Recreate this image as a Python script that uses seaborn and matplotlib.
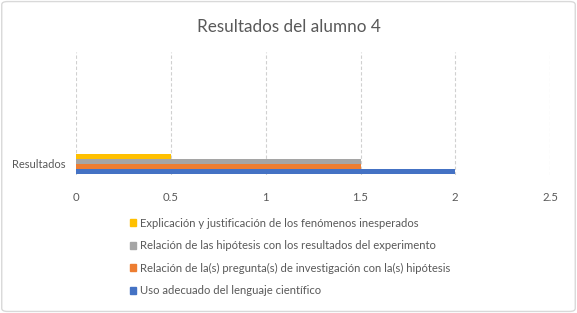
import pandas as pd
import matplotlib
matplotlib.use('Agg')
import matplotlib.pyplot as plt
import matplotlib.patches as mpatches
import seaborn as sns

# Chart data
category = 'Resultados'
series = ['Explicación y justificación de los fenómenos inesperados',
          'Relación de las hipótesis con los resultados del experimento',
          'Relación de la(s) pregunta(s) de investigación con la(s) hipótesis',
          'Uso adecuado del lenguaje científico']
values = [0.5, 1.5, 1.5, 2]
colors = ['#FFC000', '#A5A5A5', '#ED7D31', '#4472C4']
x_ticks = [0, 0.5, 1, 1.5, 2, 2.5]
x_tick_labels = ['0', '0.5', '1', '1.5', '2', '2.5']

df = pd.DataFrame({'categoria': [category] * len(series), 'serie': series, 'valor': values})

sns.set_style('white')
plt.rcParams['font.family'] = ['Lato', 'DejaVu Sans']

fig = plt.figure(figsize=(5.77, 3.13), dpi=100)
ax = fig.add_axes([0.1322, 0.441, 0.821, 0.393])

sns.barplot(data=df, x='valor', y='categoria', hue='serie', hue_order=series,
            palette=colors, orient='h', width=0.8, saturation=1, linewidth=0,
            ax=ax, legend=False)

ax.set_xlim(0, 2.5)
ax.set_ylim(0.44, -4.48)
ax.set_xticks(x_ticks)
ax.set_xticklabels(x_tick_labels)
ax.set_xlabel('')
ax.set_ylabel('')
ax.tick_params(axis='both', length=0, labelsize=8.2, labelcolor='#595959', pad=12)
ax.tick_params(axis='y', labelsize=8, pad=8)
ax.grid(axis='x', color='#D0D0D0', linestyle=(0, (3, 2)), linewidth=0.8)
ax.set_axisbelow(True)
for s in ax.spines.values():
    s.set_visible(False)

fig.text(0.5, 0.913, 'Resultados del alumno 4', ha='center', va='center',
         fontsize=12.3, color='#595959')

handles = [mpatches.Patch(color=c, label=s) for c, s in zip(colors, series)]
leg = fig.legend(handles=handles, loc='upper left', bbox_to_anchor=(0.215, 0.322),
                 frameon=False, fontsize=8.1, handlelength=0.55, handleheight=0.55,
                 handletextpad=0.4, labelspacing=1.02, borderpad=0)
for t in leg.get_texts():
    t.set_color('#595959')

border = mpatches.FancyBboxPatch((0.003, 0.005), 0.994, 0.99,
                                 boxstyle='round,pad=0,rounding_size=0.01',
                                 transform=fig.transFigure, fill=False,
                                 edgecolor='#D9D9D9', linewidth=1)
fig.patches.append(border)

fig.savefig('out.png', dpi=100)
